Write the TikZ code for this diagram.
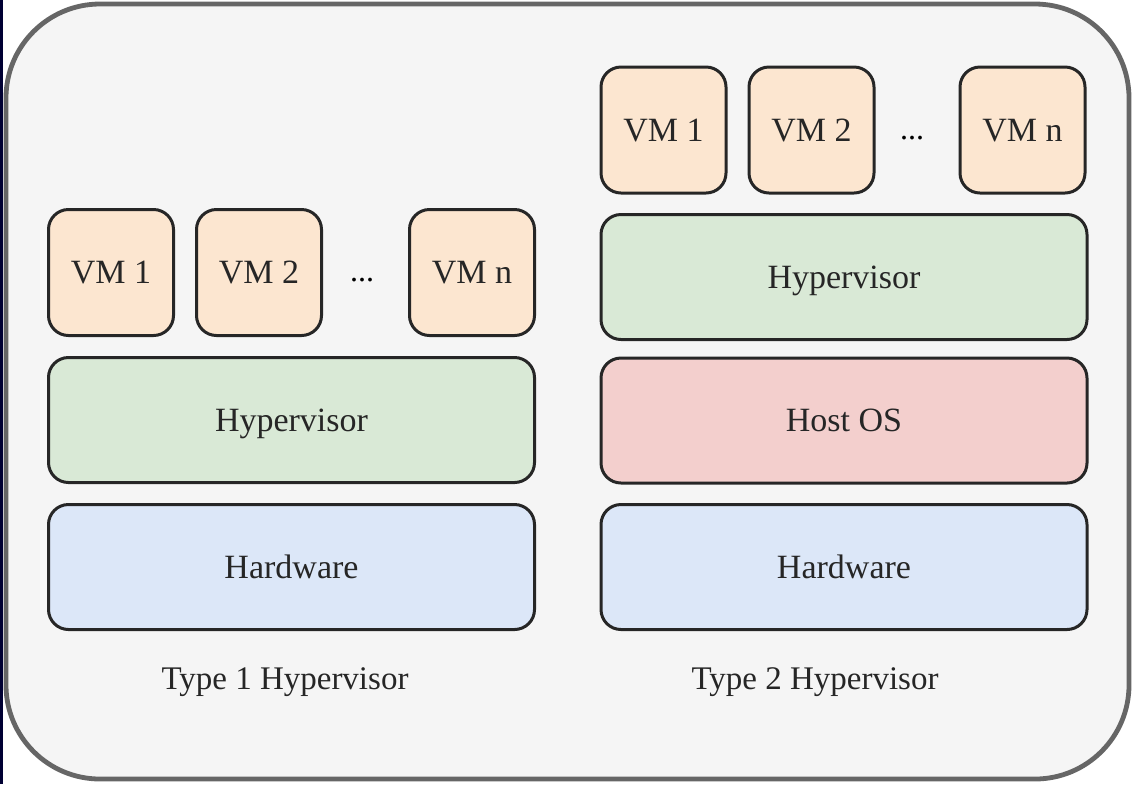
\documentclass[tikz,border=0pt]{standalone}
\usepackage{fontspec}
\setmainfont{Liberation Serif}
\definecolor{vmfill}{HTML}{FCE6D0}
\definecolor{hvfill}{HTML}{D9E9D6}
\definecolor{osfill}{HTML}{F3CFCD}
\definecolor{hwfill}{HTML}{DCE7F8}
\definecolor{framegray}{HTML}{666666}
\definecolor{panelgray}{HTML}{F5F5F5}
\tikzset{
  layer/.style={draw=black!85, line width=1.5pt, rounded corners=10pt, inner sep=0pt,
    text depth=0pt, font=\fontsize{17}{20}\selectfont, text=black!85},
  vmbox/.style={layer, fill=vmfill, minimum width=62.5pt, minimum height=63pt},
  widebox/.style={layer, minimum width=243pt, minimum height=62.5pt},
  caption/.style={text depth=0pt, font=\fontsize{16.5}{20}\selectfont, text=black!85}
}
\begin{document}
\begin{tikzpicture}[x=0.5pt,y=-0.5pt]
    \useasboundingbox (0,0) rectangle (1134,784);
    \fill[white] (0,0) rectangle (1134,784);
    \fill[fill=black!80!blue] (0,0) rectangle (3,784);
    \draw[draw=framegray, fill=panelgray, line width=2.4pt, rounded corners=47pt] (6,4) rectangle (1129,779);

    % type 1
    \node[vmbox] (vmA1) at (111,272.5) {VM 1};
    \node[vmbox] (vmA2) at (259,272.5) {VM 2};
    \node (dotsA) at (362,280) {\fontsize{16}{18}\selectfont ...};
    \node[vmbox] (vmAn) at (472,272.5) {VM n};
    \node[widebox, fill=hvfill] (hvA) at (291.5,420) {Hypervisor};
    \node[widebox, fill=hwfill] (hwA) at (291.5,567) {Hardware};
    \node[caption] (capA) at (285,679) {Type 1 Hypervisor};

    % type 2
    \node[vmbox] (vmB1) at (663.5,130) {VM 1};
    \node[vmbox] (vmB2) at (811.5,130) {VM 2};
    \node (dotsB) at (912,138) {\fontsize{16}{18}\selectfont ...};
    \node[vmbox] (vmBn) at (1022.5,130) {VM n};
    \node[widebox, fill=hvfill] (hvB) at (844,277) {Hypervisor};
    \node[widebox, fill=osfill] (osB) at (844,420.5) {Host OS};
    \node[widebox, fill=hwfill] (hwB) at (844,567) {Hardware};
    \node[caption] (capB) at (815,679) {Type 2 Hypervisor};
\end{tikzpicture}
\end{document}
